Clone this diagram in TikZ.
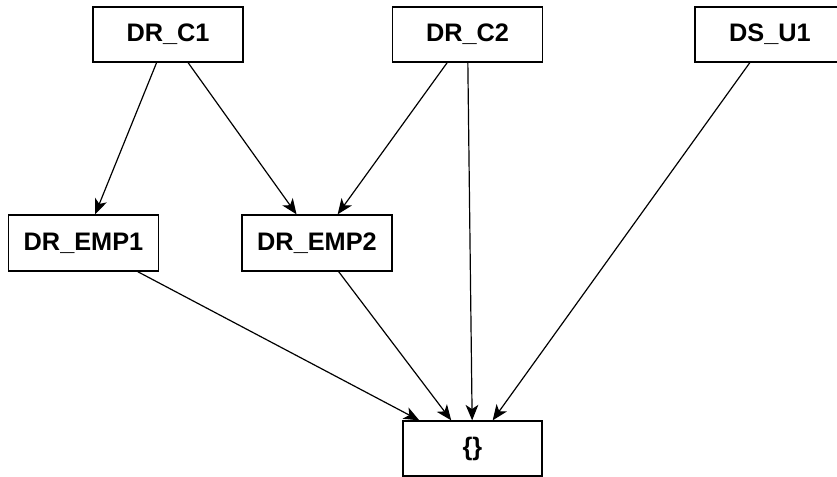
\documentclass[tikz,border=0pt]{standalone}
\usepackage{fontspec}
\setmainfont{Liberation Sans}
\usetikzlibrary{arrows.meta}

\begin{document}
\begin{tikzpicture}[x=0.025cm, y=-0.025cm,
	tbl/.style={draw, line width=0.9pt, minimum width=3.75cm, minimum height=1.375cm,
		inner sep=0pt, font=\fontsize{18}{21}\selectfont\bfseries},
	dep/.style={-{Stealth[length=11pt, width=9pt, inset=3pt]}, line width=0.85pt}]

	\useasboundingbox (0,0) rectangle (837,477);

	% top row
	\node[tbl] (c1) at (168,34.5) {DR\_C1};
	\node[tbl] (c2) at (467.5,34.5) {DR\_C2};
	\node[tbl] (u1) at (770,34.5) {DS\_U1};

	% middle row
	\node[tbl, minimum height=1.4cm] (emp1) at (83.5,243) {DR\_EMP1};
	\node[tbl, minimum height=1.4cm] (emp2) at (317,243) {DR\_EMP2};

	% result
	\node[tbl, minimum width=3.475cm] (res) at (472.5,448.5) {\{\}};

	\draw[dep] (c1) -- (emp1);
	\draw[dep] (c1) -- (emp2);
	\draw[dep] (c2) -- (emp2);
	\draw[dep] (c2) -- (res);
	\draw[dep] (u1) -- (res);
	\draw[dep] (emp1) -- (res);
	\draw[dep] (emp2) -- (res);

\end{tikzpicture}
\end{document}
